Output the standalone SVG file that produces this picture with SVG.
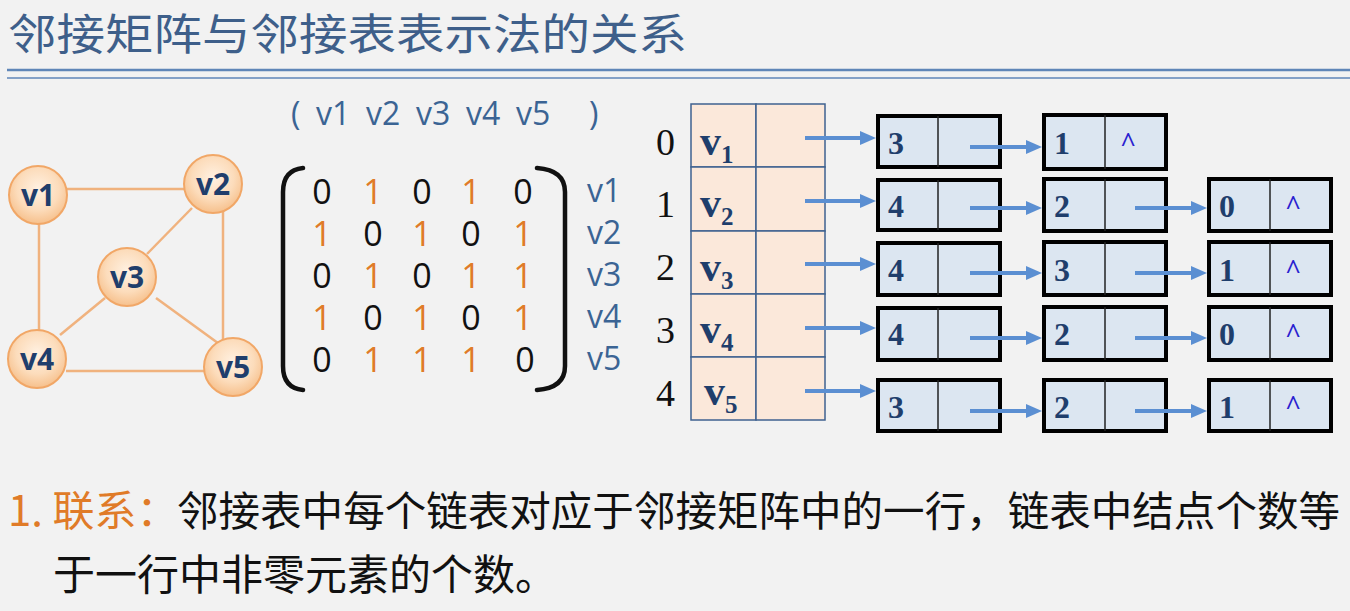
<svg xmlns="http://www.w3.org/2000/svg" width="1350" height="611" viewBox="0 0 1350 611">
<defs>
<radialGradient id="ng" cx="50%" cy="40%" r="60%">
<stop offset="0" stop-color="#fff1e2"/>
<stop offset="0.6" stop-color="#fcdcbb"/>
<stop offset="1" stop-color="#f6c08c"/>
</radialGradient>
<marker id="ah" viewBox="0 0 16 14" refX="0" refY="7" markerWidth="16" markerHeight="14" markerUnits="userSpaceOnUse" orient="auto">
<path d="M0,0 L16,7 L0,14 Z" fill="#5b8fd2"/>
</marker>
<style>
.cjk{font-family:"Noto Sans CJK SC",sans-serif}
.gedge{stroke:#f0b27e;stroke-width:2.5;fill:none}
.gnode{fill:url(#ng);stroke:#f1a767;stroke-width:2}
.gtxt{font-family:"Open Sans",sans-serif;font-weight:bold;font-size:30px;fill:#1f3e6c;text-anchor:middle}
.m{font-family:"Open Sans",sans-serif;font-size:34px;text-anchor:middle}
.z{fill:#111}
.o{fill:#e07b28}
.lbl{font-family:"Open Sans",sans-serif;font-size:32px;fill:#3b6494}
.brk{stroke:#111;stroke-width:4.5;fill:none;stroke-linecap:round}
.idx{font-family:"Liberation Serif",serif;font-size:38px;fill:#111}
.vt{font-family:"Liberation Serif",serif;font-weight:bold;font-size:42px;fill:#1f3e6c}
.sub{font-size:25px}
.cell{fill:#fbe8da;stroke:#3f6290;stroke-width:1.5}
.box{fill:#dce6f1;stroke:#000;stroke-width:4}
.div{stroke:#222;stroke-width:1.5}
.num{font-family:"Liberation Serif",serif;font-weight:bold;font-size:32px;fill:#1f3e6c}
.nil{font-family:"Liberation Serif",serif;font-weight:bold;font-size:28px;fill:#2a1fd0}
.arr{stroke:#5b8fd2;stroke-width:4;fill:none;marker-end:url(#ah)}
</style>
</defs>
<rect width="1350" height="611" fill="#f2f2f2"/>

<g id="title">
<text x="8" y="50" class="cjk" font-size="43" fill="#3e5f8a" textLength="679" lengthAdjust="spacingAndGlyphs">邻接矩阵与邻接表表示法的关系</text>
<line x1="7" y1="70" x2="1350" y2="70" stroke="#5f86b8" stroke-width="2.5"/>
<line x1="7" y1="78" x2="1350" y2="78" stroke="#5f86b8" stroke-width="1.5"/>
</g>

<g id="graph-edges">
<line class="gedge" x1="66" y1="189" x2="184" y2="189"/>
<line class="gedge" x1="39" y1="224" x2="39" y2="332"/>
<line class="gedge" x1="223" y1="211" x2="223" y2="340"/>
<line class="gedge" x1="66" y1="371" x2="205" y2="371"/>
<line class="gedge" x1="192" y1="208" x2="147" y2="254"/>
<line class="gedge" x1="105" y1="298" x2="60" y2="335"/>
<line class="gedge" x1="156" y1="298" x2="222" y2="346"/>
</g>

<g id="v1"><circle class="gnode" cx="38" cy="195" r="29"/><text class="gtxt" x="38" y="206">v1</text></g>
<g id="v2"><circle class="gnode" cx="213" cy="184" r="29"/><text class="gtxt" x="213" y="195">v2</text></g>
<g id="v3"><circle class="gnode" cx="127" cy="277" r="29"/><text class="gtxt" x="127" y="288">v3</text></g>
<g id="v4"><circle class="gnode" cx="37" cy="359" r="29"/><text class="gtxt" x="37" y="370">v4</text></g>
<g id="v5"><circle class="gnode" cx="233" cy="367" r="29"/><text class="gtxt" x="233" y="378">v5</text></g>

<g id="matrix">
<text class="lbl" y="125"><tspan x="291">(</tspan><tspan x="316">v1</tspan><tspan x="366">v2</tspan><tspan x="416">v3</tspan><tspan x="466">v4</tspan><tspan x="516">v5</tspan><tspan x="589">)</tspan></text>
<path class="brk" d="M303,168 Q283,170 283,192 L283,366 Q283,388 303,390"/>
<path class="brk" d="M537,168 Q565,170 565,192 L565,366 Q565,388 537,390"/>
<g class="m">
<text y="204"><tspan class="z" x="322">0</tspan><tspan class="o" x="373">1</tspan><tspan class="z" x="422">0</tspan><tspan class="o" x="471">1</tspan><tspan class="z" x="523">0</tspan></text>
<text y="246"><tspan class="o" x="322">1</tspan><tspan class="z" x="373">0</tspan><tspan class="o" x="422">1</tspan><tspan class="z" x="471">0</tspan><tspan class="o" x="523">1</tspan></text>
<text y="288"><tspan class="z" x="322">0</tspan><tspan class="o" x="373">1</tspan><tspan class="z" x="422">0</tspan><tspan class="o" x="471">1</tspan><tspan class="o" x="523">1</tspan></text>
<text y="330"><tspan class="o" x="322">1</tspan><tspan class="z" x="373">0</tspan><tspan class="o" x="422">1</tspan><tspan class="z" x="471">0</tspan><tspan class="o" x="523">1</tspan></text>
<text y="372"><tspan class="z" x="322">0</tspan><tspan class="o" x="373">1</tspan><tspan class="o" x="422">1</tspan><tspan class="o" x="471">1</tspan><tspan class="z" x="525">0</tspan></text>
</g>
<text class="lbl" x="587" y="202">v1</text>
<text class="lbl" x="587" y="244">v2</text>
<text class="lbl" x="587" y="286">v3</text>
<text class="lbl" x="587" y="328">v4</text>
<text class="lbl" x="587" y="370">v5</text>
</g>

<g id="vertex-table">
<rect class="cell" x="691" y="104" width="65" height="63"/><rect class="cell" x="756" y="104" width="69" height="63"/>
<rect class="cell" x="691" y="167" width="65" height="64"/><rect class="cell" x="756" y="167" width="69" height="64"/>
<rect class="cell" x="691" y="231" width="65" height="63"/><rect class="cell" x="756" y="231" width="69" height="63"/>
<rect class="cell" x="691" y="294" width="65" height="63"/><rect class="cell" x="756" y="294" width="69" height="63"/>
<rect class="cell" x="691" y="357" width="65" height="63"/><rect class="cell" x="756" y="357" width="69" height="63"/>
<text class="idx" x="656" y="155">0</text>
<text class="idx" x="656" y="217">1</text>
<text class="idx" x="656" y="280">2</text>
<text class="idx" x="656" y="343">3</text>
<text class="idx" x="656" y="406">4</text>
<text class="vt" x="700" y="155">v<tspan class="sub" dy="8">1</tspan></text>
<text class="vt" x="700" y="217">v<tspan class="sub" dy="8">2</tspan></text>
<text class="vt" x="700" y="281">v<tspan class="sub" dy="8">3</tspan></text>
<text class="vt" x="700" y="343">v<tspan class="sub" dy="8">4</tspan></text>
<text class="vt" x="704" y="405">v<tspan class="sub" dy="8">5</tspan></text>
</g>

<g id="row0-n1"><rect class="box" x="878" y="116" width="122" height="51"/><line class="div" x1="938" y1="116" x2="938" y2="167"/><text class="num" x="888" y="154">3</text></g>
<g id="row0-n2"><rect class="box" x="1044" y="115" width="122" height="54"/><line class="div" x1="1105" y1="115" x2="1105" y2="169"/><text class="num" x="1054" y="154">1</text><text class="nil" x="1120" y="151">^</text></g>

<g id="row1-n1"><rect class="box" x="878" y="180" width="122" height="50"/><line class="div" x1="938" y1="180" x2="938" y2="230"/><text class="num" x="888" y="217">4</text></g>
<g id="row1-n2"><rect class="box" x="1044" y="179" width="122" height="52"/><line class="div" x1="1105" y1="179" x2="1105" y2="231"/><text class="num" x="1054" y="217">2</text></g>
<g id="row1-n3"><rect class="box" x="1209" y="179" width="122" height="52"/><line class="div" x1="1270" y1="179" x2="1270" y2="231"/><text class="num" x="1219" y="217">0</text><text class="nil" x="1285" y="214">^</text></g>

<g id="row2-n1"><rect class="box" x="878" y="243" width="122" height="52"/><line class="div" x1="938" y1="243" x2="938" y2="295"/><text class="num" x="888" y="281">4</text></g>
<g id="row2-n2"><rect class="box" x="1044" y="242" width="122" height="53"/><line class="div" x1="1105" y1="242" x2="1105" y2="295"/><text class="num" x="1054" y="281">3</text></g>
<g id="row2-n3"><rect class="box" x="1209" y="242" width="122" height="53"/><line class="div" x1="1270" y1="242" x2="1270" y2="295"/><text class="num" x="1219" y="281">1</text><text class="nil" x="1285" y="278">^</text></g>

<g id="row3-n1"><rect class="box" x="878" y="308" width="122" height="52"/><line class="div" x1="938" y1="308" x2="938" y2="360"/><text class="num" x="888" y="345">4</text></g>
<g id="row3-n2"><rect class="box" x="1044" y="307" width="122" height="53"/><line class="div" x1="1105" y1="307" x2="1105" y2="360"/><text class="num" x="1054" y="345">2</text></g>
<g id="row3-n3"><rect class="box" x="1209" y="307" width="122" height="53"/><line class="div" x1="1270" y1="307" x2="1270" y2="360"/><text class="num" x="1219" y="345">0</text><text class="nil" x="1285" y="342">^</text></g>

<g id="row4-n1"><rect class="box" x="878" y="380" width="122" height="51"/><line class="div" x1="938" y1="380" x2="938" y2="431"/><text class="num" x="888" y="418">3</text></g>
<g id="row4-n2"><rect class="box" x="1044" y="380" width="122" height="51"/><line class="div" x1="1105" y1="380" x2="1105" y2="431"/><text class="num" x="1054" y="418">2</text></g>
<g id="row4-n3"><rect class="box" x="1209" y="380" width="122" height="51"/><line class="div" x1="1270" y1="380" x2="1270" y2="431"/><text class="num" x="1219" y="418">1</text><text class="nil" x="1285" y="414">^</text></g>

<g id="connectors">
<line class="arr" x1="805" y1="138" x2="860" y2="138"/>
<line class="arr" x1="805" y1="201" x2="860" y2="201"/>
<line class="arr" x1="805" y1="264" x2="860" y2="264"/>
<line class="arr" x1="805" y1="328" x2="860" y2="328"/>
<line class="arr" x1="805" y1="391" x2="860" y2="391"/>
<line class="arr" x1="970" y1="147" x2="1026" y2="147"/>
<line class="arr" x1="970" y1="208" x2="1026" y2="208"/>
<line class="arr" x1="970" y1="273" x2="1026" y2="273"/>
<line class="arr" x1="970" y1="338" x2="1026" y2="338"/>
<line class="arr" x1="970" y1="411" x2="1026" y2="411"/>
<line class="arr" x1="1135" y1="208" x2="1191" y2="208"/>
<line class="arr" x1="1135" y1="273" x2="1191" y2="273"/>
<line class="arr" x1="1135" y1="338" x2="1191" y2="338"/>
<line class="arr" x1="1135" y1="411" x2="1191" y2="411"/>
</g>

<g id="caption">
<text class="cjk" font-size="42" x="8" y="526" fill="#e07b28">1. 联系：</text>
<text class="cjk" font-size="41" x="177" y="526" fill="#111" textLength="1163" lengthAdjust="spacingAndGlyphs">邻接表中每个链表对应于邻接矩阵中的一行，链表中结点个数等</text>
<text class="cjk" font-size="42" x="53" y="590" fill="#111">于一行中非零元素的个数。</text>
</g>
</svg>
